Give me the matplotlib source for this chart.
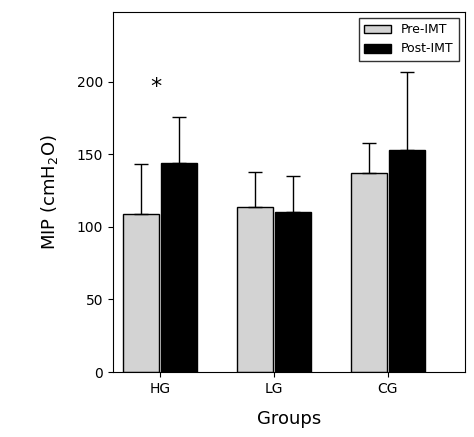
import numpy as np
import matplotlib.pyplot as plt

groups = ["HG", "LG", "CG"]
pre = [109, 114, 137]
pre_err = [34, 24, 21]
post = [144, 110, 153]
post_err = [32, 25, 54]

fig = plt.figure(figsize=(4.74, 4.37), dpi=100)
ax = fig.add_axes([113/474, 65/437, 352/474, 360/437])
x = np.arange(len(groups))
w = 0.315
ax.bar(x - w/2 - 0.008, pre, w, color="#d3d3d3", edgecolor="black", linewidth=1, label="Pre-IMT")
ax.bar(x + w/2 + 0.008, post, w, color="black", edgecolor="black", linewidth=1, label="Post-IMT")
ax.errorbar(x - w/2 - 0.008, pre, yerr=[np.zeros(3), pre_err], fmt="none", ecolor="black", elinewidth=1, capsize=5)
ax.errorbar(x + w/2 + 0.008, post, yerr=[np.zeros(3), post_err], fmt="none", ecolor="black", elinewidth=1, capsize=5)
ax.text(x[0] - 0.03, 196, "*", ha="center", va="center", fontsize=16)
ax.set_xlim(-0.41, 2.675)
ax.set_ylim(0, 248)
ax.set_yticks([0, 50, 100, 150, 200])
ax.set_xticks(x)
ax.set_xticklabels(groups)
ax.tick_params(labelsize=10, direction="out")
ax.set_xlabel("Groups", fontsize=13, labelpad=10)
ax.set_ylabel("MIP (cmH$_2$O)", fontsize=13, labelpad=12)
ax.legend(loc="upper right", fontsize=9, frameon=True, fancybox=False, edgecolor="black", handlelength=2.2)
fig.savefig("out.png", dpi=100)
